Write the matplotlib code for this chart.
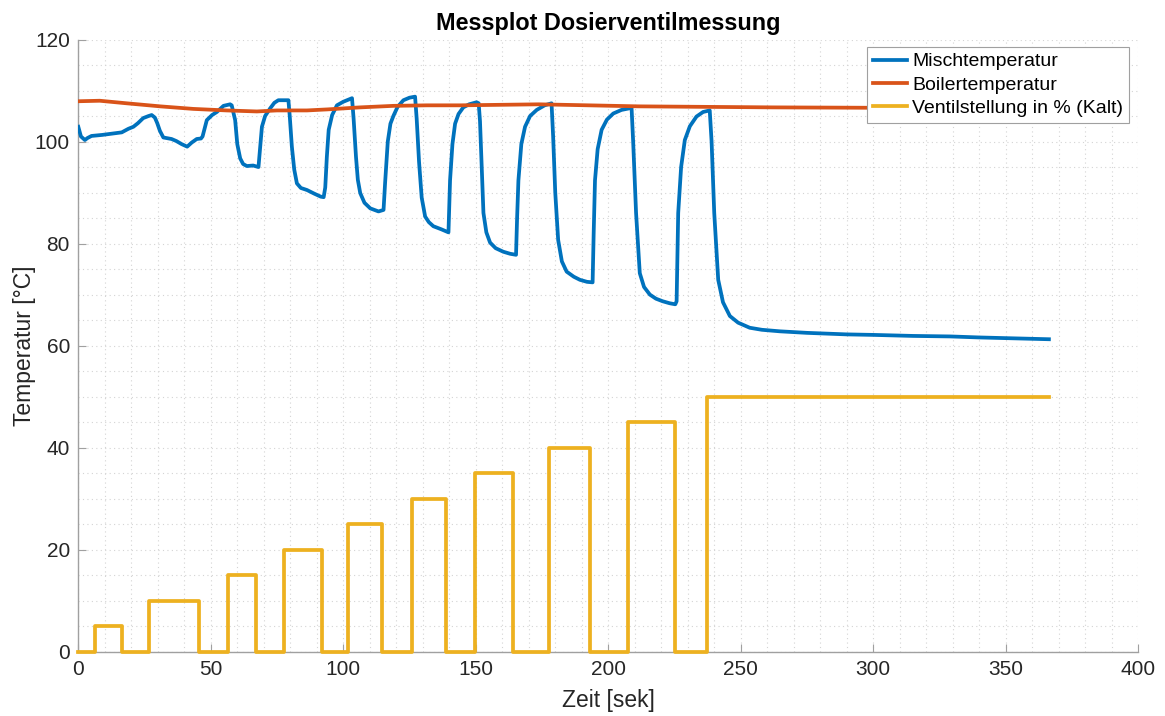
import numpy as np
import matplotlib.pyplot as plt
from matplotlib.ticker import MultipleLocator

plt.rcParams['font.family'] = ['Liberation Sans', 'DejaVu Sans']

# Mischtemperatur (Zeit in s, Temperatur in °C)
t_misch = [0, 1.0, 2.5, 3.5, 5.0, 9.0, 12.0, 16.4, 18.9, 20.8, 22.5, 24.5, 26.5, 27.7, 28.9,
           29.8, 30.8, 32.1, 35.2, 37.0, 39.0, 41.1, 42.8, 44.7, 46.3, 46.9, 48.5, 50.5, 52.3,
           54.8, 57.3, 57.9,
           59.2, 60.0, 61.1, 62.2, 63.6, 66.0, 68.0,
           68.5, 69.3, 70.5, 72.4, 74.0, 75.5, 79.3,
           79.8, 80.6, 81.5, 82.5, 84.0, 86.3, 89.0, 91.5, 92.6,
           93.2, 93.8, 94.5, 95.8, 97.6, 100.0, 103.3,
           103.9, 104.8, 105.5, 106.4, 108.0, 110.2, 113.3, 115.2,
           115.8, 116.8, 117.8, 118.9, 120.5, 122.7, 125.0, 127.1,
           127.7, 128.6, 129.6, 130.9, 132.3, 134.0, 137.0, 139.7,
           140.3, 141.2, 142.2, 143.5, 145.3, 147.5, 150.3, 151.1,
           151.6, 152.3, 152.9, 154.0, 155.4, 157.5, 160.4, 163.0, 165.2,
           165.6, 166.1, 167.2, 168.6, 170.5, 173.0, 176.0, 178.6,
           179.2, 180.0, 181.1, 182.5, 184.3, 187.0, 189.3, 192.0, 194.1,
           194.5, 195.0, 196.0, 197.5, 199.5, 201.9, 205.0, 208.8,
           209.4, 210.5, 211.9, 213.5, 215.7, 218.0, 220.5, 223.2, 225.3, 225.8,
           226.1, 226.4, 227.5, 228.9, 230.8, 233.3, 235.8, 238.3,
           239.0, 240.0, 241.5, 243.3, 245.9, 249.0, 253.4, 258.0, 264.8, 275.0,
           290.0, 300.0, 315.0, 329.0, 340.0, 355.0, 366.3]
T_misch = [102.9, 101.0, 100.3, 100.7, 101.1, 101.3, 101.5, 101.8, 102.5, 102.9, 103.6, 104.6, 105.0, 105.2, 104.7,
           103.6, 102.1, 100.8, 100.5, 100.1, 99.5, 99.0, 99.8, 100.5, 100.6, 101.0, 104.2, 105.2, 105.8,
           107.0, 107.3, 107.1,
           104.2, 99.5, 96.7, 95.6, 95.2, 95.3, 95.0,
           98.0, 102.9, 105.0, 106.5, 107.6, 108.1, 108.1,
           105.0, 99.0, 94.5, 91.8, 90.9, 90.5, 89.8, 89.2, 89.1,
           91.0, 97.0, 102.3, 105.2, 107.1, 107.8, 108.5,
           104.5, 97.0, 92.5, 89.9, 88.0, 86.9, 86.3, 86.6,
           92.0, 100.0, 103.5, 105.0, 106.8, 108.1, 108.6, 108.8,
           104.5, 96.0, 89.0, 85.3, 84.2, 83.4, 82.8, 82.2,
           92.4, 99.5, 103.5, 105.4, 106.7, 107.3, 107.7, 107.5,
           104.0, 94.0, 86.0, 82.2, 80.2, 79.1, 78.4, 78.0, 77.8,
           85.0, 92.4, 99.5, 102.9, 105.0, 106.2, 107.1, 107.5,
           101.0, 90.0, 80.7, 76.5, 74.5, 73.5, 72.9, 72.5, 72.4,
           82.0, 92.4, 98.5, 102.3, 104.3, 105.5, 106.2, 106.6,
           100.0, 86.0, 74.2, 71.5, 70.0, 69.2, 68.7, 68.3, 68.1, 68.7,
           78.0, 86.0, 95.0, 100.3, 103.0, 104.9, 105.8, 106.1,
           100.0, 86.0, 72.9, 68.5, 65.8, 64.5, 63.5, 63.1, 62.8, 62.5,
           62.2, 62.1, 61.9, 61.8, 61.6, 61.4, 61.25]

# Boilertemperatur
t_boiler = [0, 8.1, 18.2, 30.9, 43.4, 56.0, 67.4, 75.0, 86.3, 93.9, 106.4, 119.0, 131.6,
            144.1, 173.8, 211.5, 262.0, 310.0, 366.3]
T_boiler = [107.9, 108.0, 107.5, 106.9, 106.4, 106.1, 105.9, 106.1, 106.1, 106.3, 106.7, 107.0, 107.1,
            107.1, 107.3, 106.9, 106.7, 106.6, 106.5]

# Ventilstellung (Schaltzeitpunkte und Stellung in %)
t_ventil = [0, 6.3, 16.6, 26.8, 45.5, 56.6, 66.9, 77.5, 92.1, 101.8, 114.7, 125.9, 138.6,
            149.7, 164.2, 177.6, 193.0, 207.4, 225.2, 237.4, 366.3]
ventil = [0, 5, 0, 10, 0, 15, 0, 20, 0, 25, 0, 30, 0, 35, 0, 40, 0, 45, 0, 50, 50]

fig = plt.figure(figsize=(11.65, 7.16), dpi=100)
ax = fig.add_axes([0.0672, 0.0898, 0.9098, 0.855])

lw = 2.7
ax.plot(t_misch, T_misch, color='#0072BD', lw=lw, label='Mischtemperatur',
        solid_joinstyle='round', zorder=3)
ax.plot(t_boiler, T_boiler, color='#D95319', lw=lw, label='Boilertemperatur', zorder=3)
ax.step(t_ventil, ventil, where='post', color='#EDB120', lw=lw,
        label='Ventilstellung in % (Kalt)', clip_on=False, zorder=4)

ax.set_xlim(0, 400)
ax.set_ylim(0, 120)
ax.xaxis.set_major_locator(MultipleLocator(50))
ax.xaxis.set_minor_locator(MultipleLocator(10))
ax.yaxis.set_major_locator(MultipleLocator(20))
ax.yaxis.set_minor_locator(MultipleLocator(5))

ax.grid(True, which='both', color='#d4d4d4', lw=0.8, dashes=(1, 3))
ax.set_axisbelow(True)

for s in ['top', 'right']:
    ax.spines[s].set_visible(False)
for s in ['left', 'bottom']:
    ax.spines[s].set_color('#a0a0a0')
    ax.spines[s].set_linewidth(1.0)
    ax.spines[s].set_zorder(2)
ax.tick_params(which='major', direction='in', length=6, color='#a0a0a0',
               labelsize=15, labelcolor='#262626', pad=6)
ax.tick_params(which='minor', length=0)

ax.set_xlabel('Zeit [sek]', fontsize=16.5, color='#262626', labelpad=7)
ax.set_ylabel('Temperatur [°C]', fontsize=16.5, color='#262626', labelpad=-1)
ax.set_title('Messplot Dosierventilmessung', fontsize=16.8, fontweight='bold', pad=7)

leg = ax.legend(loc='upper right', bbox_to_anchor=(0.9915, 0.988), borderaxespad=0,
                fontsize=14, handlelength=1.75, handletextpad=0.3, labelspacing=0.3,
                borderpad=0.3, fancybox=False, framealpha=1)
leg.get_frame().set_edgecolor('#a0a0a0')
leg.get_frame().set_linewidth(0.8)

fig.savefig('out.png', dpi=100)
